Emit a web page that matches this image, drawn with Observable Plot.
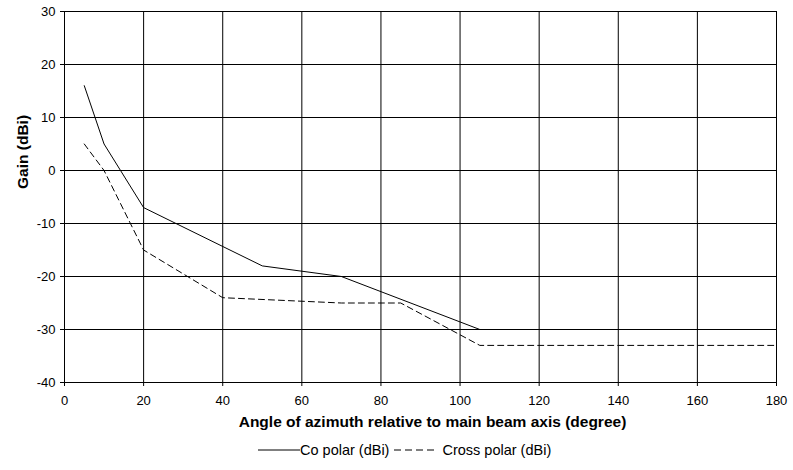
<!DOCTYPE html>
<html><head><meta charset="utf-8">
<script src="https://cdn.jsdelivr.net/npm/d3@7"></script>
<script src="https://cdn.jsdelivr.net/npm/@observablehq/plot@0.6"></script>
<style>
body{margin:0;background:#fff;font-family:"Liberation Sans",Arial,sans-serif;position:relative;width:793px;height:470px;overflow:hidden;}
#legend{position:absolute;left:258px;top:440px;height:20px;font-size:14.5px;display:flex;align-items:center;white-space:nowrap;}
#legend svg{display:block}
</style></head><body>
<div id="chart"></div>
<div id="legend"><svg width="42" height="10"><line x1="0" y1="5" x2="42" y2="5" stroke="#000" stroke-width="1"/></svg><span>Co polar (dBi)</span><svg width="41" height="10" style="margin-left:5px"><line x1="0" y1="5" x2="41" y2="5" stroke="#000" stroke-width="1" stroke-dasharray="7,4"/></svg><span style="margin-left:7px">Cross polar (dBi)</span></div>
<script>
const coAngle = [5, 10, 20, 50, 70, 105, 180];
const coGain = [16, 5, -7, -18, -20, -30, -30];
const crossAngle = [5, 10, 20, 40, 70, 85, 105, 180];
const crossGain = [5, 0, -15, -24, -25, -25, -33, -33];
const xTicks = [0,20,40,60,80,100,120,140,160,180];
const yTicks = [-40,-30,-20,-10,0,10,20,30];

const co = coAngle.map((a,i)=>({a, g: coGain[i]}));
const cross = crossAngle.map((a,i)=>({a, g: crossGain[i]}));
const FONT = '"Liberation Sans", Arial, sans-serif';

const chart = Plot.plot({
  width: 793, height: 440,
  marginLeft: 64, marginRight: 17, marginTop: 11, marginBottom: 58,
  style: {fontFamily: FONT, fontSize: "13px", color: "#000"},
  x: {domain: [0,180], ticks: xTicks, label: null},
  y: {domain: [-40,30], ticks: yTicks, label: null},
  marks: [
    Plot.gridX(xTicks, {stroke: "#000", strokeOpacity: 1, strokeWidth: 1}),
    Plot.gridY(yTicks, {stroke: "#000", strokeOpacity: 1, strokeWidth: 1}),
    Plot.axisX({ticks: xTicks, tickSize: 4, tickPadding: 9, label: null, stroke: "#000"}),
    Plot.axisY({ticks: yTicks, tickSize: 4, tickPadding: 5, label: null, stroke: "#000", tickFormat: d => String(d)}),
    Plot.line(co, {x: "a", y: "g", stroke: "#000", strokeWidth: 1}),
    Plot.line(cross, {x: "a", y: "g", stroke: "#000", strokeWidth: 1, strokeDasharray: "6,4"}),
    Plot.text(["Angle of azimuth relative to main beam axis (degree)"], {frameAnchor: "bottom", dy: 44, dx: 12, fontWeight: "bold", fontSize: 15.5}),
    Plot.text(["Gain (dBi)"], {frameAnchor: "left", dx: -41, dy: -8, rotate: -90, fontWeight: "bold", fontSize: 15.5})
  ]
});
document.getElementById("chart").append(chart);
</script>
</body></html>
